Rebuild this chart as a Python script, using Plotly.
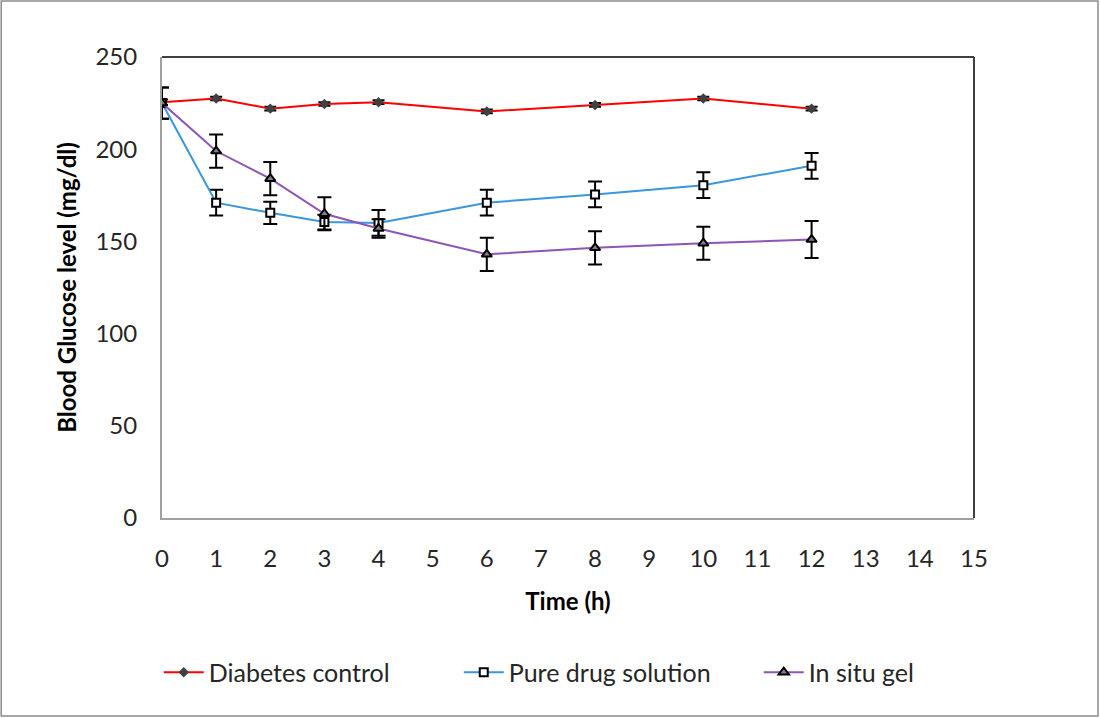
import plotly.graph_objects as go

time_h = [0, 1, 2, 3, 4, 6, 8, 10, 12]

diabetes_control = [225.5, 227.5, 222, 224.5, 225.5, 220.5, 224, 227.5, 222]
diabetes_err = [1.5, 1, 1, 1, 1, 1, 1, 1, 1]

pure_drug = [225, 171, 165.5, 160.5, 160, 171, 175.5, 180.5, 191]
pure_drug_err = [8.5, 7, 6, 4, 7, 7, 7, 7, 7]

in_situ_gel = [225, 199, 184, 165, 157, 143, 146.5, 149, 151]
in_situ_err = [8.5, 9, 9, 9, 5, 9, 9, 9, 10]

FONT = "Lato"

fig = go.Figure()

fig.add_trace(go.Scatter(
    x=time_h, y=diabetes_control, name="Diabetes control", mode="lines+markers",
    line=dict(color="#FF0000", width=2),
    marker=dict(symbol="diamond", size=8, color="#404040"),
    error_y=dict(type="data", array=diabetes_err, color="#000000", thickness=2, width=6),
))
fig.add_trace(go.Scatter(
    x=time_h, y=pure_drug, name="Pure drug solution", mode="lines+markers",
    line=dict(color="#3A96DD", width=2),
    marker=dict(symbol="square", size=8, color="white", line=dict(color="#000000", width=2)),
    error_y=dict(type="data", array=pure_drug_err, color="#000000", thickness=2, width=7),
))
fig.add_trace(go.Scatter(
    x=time_h, y=in_situ_gel, name="In situ gel", mode="lines+markers",
    line=dict(color="#8E55B8", width=2),
    marker=dict(symbol="triangle-up", size=9, color="#808080", line=dict(color="#000000", width=2)),
    error_y=dict(type="data", array=in_situ_err, color="#000000", thickness=2, width=7),
))

# plot-area top/right edges (darker) and outer chart border
fig.add_shape(type="line", xref="paper", yref="paper", x0=0, x1=1, y0=1, y1=1,
              line=dict(color="#404040", width=2))
fig.add_shape(type="line", xref="paper", yref="paper", x0=1, x1=1, y0=0, y1=1,
              line=dict(color="#404040", width=2))
fig.add_shape(type="rect", xref="paper", yref="paper",
              x0=-0.198, x1=1.1527, y0=-0.4295, y1=1.1215,
              line=dict(color="#8C8C8C", width=1.5))

fig.update_layout(
    width=1100, height=718,
    margin=dict(l=162, r=126, t=57, b=200),
    paper_bgcolor="white", plot_bgcolor="white",
    font=dict(family=FONT, size=24, color="#262626"),
    showlegend=True,
    legend=dict(orientation="h", x=-0.004, xanchor="left", y=-0.335, yanchor="middle",
                font=dict(family=FONT, size=25, color="#262626"),
                itemwidth=40, tracegroupgap=0,
                entrywidth=245, entrywidthmode="pixels"),
    xaxis=dict(
        range=[0, 15], tickmode="linear", tick0=0, dtick=1,
        showgrid=False, zeroline=False,
        showline=True, linecolor="#A0A0A0", linewidth=2,
        ticks="", ticklabelstandoff=18,
        title=dict(text="<b>Time (h)</b>", font=dict(family=FONT, size=24, color="#000000"), standoff=22),
    ),
    yaxis=dict(
        range=[0, 250], tickmode="linear", tick0=0, dtick=50,
        showgrid=False, zeroline=False,
        showline=True, linecolor="#A0A0A0", linewidth=2,
        ticks="", ticklabelstandoff=18,
        title=dict(text="<b>Blood Glucose level (mg/dl)</b>", font=dict(family=FONT, size=24, color="#000000"), standoff=12),
    ),
)

fig.write_html("out.html", config={"displayModeBar": False},
               post_script="document.body.style.margin='0';document.body.style.overflow='hidden';")
